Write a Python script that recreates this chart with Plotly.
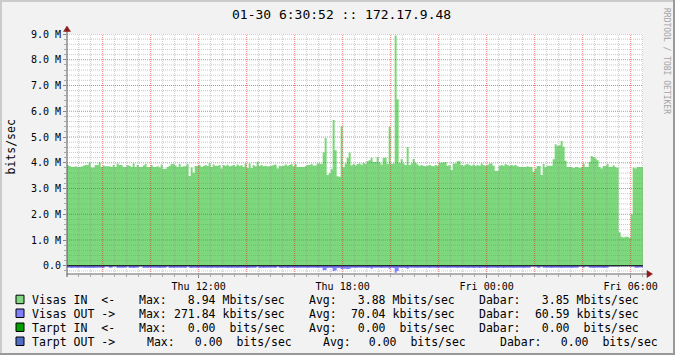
import plotly.graph_objects as go
import pandas as pd

# ---------------- data ----------------
title_text = "01-30 6:30:52 :: 172.17.9.48"
range_start = "2014-01-29 06:30:52"
range_end = "2014-01-30 06:30:52"
sample_start = "2014-01-29 06:30:00"

# Visas IN (Mbits/sec), 5-minute samples
visas_in = [
    3.91, 3.87, 3.84, 3.84, 3.86, 3.84, 3.84, 3.85, 3.88, 3.91, 3.91, 4.01,
    3.82, 3.82, 3.91, 3.91, 4.01, 3.84, 3.89, 3.86, 3.86, 3.86, 3.84, 3.91,
    3.84, 3.97, 3.91, 3.91, 3.84, 3.84, 3.91, 3.88, 3.84, 3.97, 3.84, 3.91,
    3.84, 3.84, 3.89, 3.95, 3.84, 3.84, 3.91, 3.84, 3.84, 3.86, 3.82, 3.93,
    3.76, 3.76, 3.84, 3.87, 3.95, 3.95, 3.89, 3.84, 3.95, 3.84, 3.86, 3.86,
    3.95, 3.49, 3.82, 3.61, 3.87, 3.88, 3.91, 3.84, 3.87, 3.91, 3.87, 3.98,
    3.84, 3.93, 3.88, 3.88, 3.91, 3.78, 3.91, 3.88, 3.92, 3.86, 3.88, 3.91,
    3.86, 3.93, 3.88, 3.90, 3.84, 3.97, 3.80, 3.97, 3.80, 3.91, 3.86, 4.04,
    3.88, 3.91, 3.86, 3.88, 3.86, 3.86, 3.88, 3.91, 3.93, 3.78, 3.88, 3.86,
    3.88, 3.93, 3.88, 3.91, 3.95, 3.86, 3.95, 3.84, 3.84, 3.84, 3.84, 3.86,
    3.91, 3.91, 3.95, 3.89, 3.89, 3.97, 3.97, 3.95, 4.40, 4.96, 3.52, 3.59,
    3.75, 5.66, 4.49, 3.48, 3.46, 5.42, 3.83, 3.97, 4.19, 4.40, 3.90, 3.95,
    3.90, 3.95, 3.97, 3.92, 3.99, 3.95, 4.06, 4.10, 4.19, 4.03, 4.03, 4.22,
    4.02, 3.93, 4.18, 4.20, 3.95, 5.40, 3.95, 3.97, 8.94, 6.47, 3.99, 4.14,
    3.97, 3.91, 4.61, 3.91, 3.97, 4.15, 4.00, 3.93, 3.88, 3.91, 3.88, 3.86,
    3.88, 3.91, 3.88, 3.86, 3.91, 3.88, 4.00, 4.00, 4.02, 4.02, 3.88, 3.91,
    3.72, 3.97, 3.97, 4.06, 4.06, 3.91, 3.88, 3.93, 3.95, 3.91, 3.88, 3.93,
    3.88, 3.91, 3.88, 3.97, 3.91, 3.88, 3.91, 3.97, 3.97, 3.88, 3.69, 3.69,
    3.88, 3.91, 3.88, 3.95, 3.91, 3.88, 3.91, 3.88, 3.91, 3.86, 3.84, 3.84,
    3.84, 3.84, 3.86, 3.84, 3.84, 3.65, 3.78, 3.87, 3.87, 3.52, 3.95, 3.83,
    3.88, 3.88, 3.88, 4.14, 4.72, 4.65, 4.68, 4.84, 4.62, 4.08, 3.84, 3.84,
    3.84, 3.80, 3.84, 3.84, 3.80, 3.84, 3.97, 3.84, 3.84, 4.04, 4.26, 4.22,
    4.17, 4.10, 3.84, 3.78, 3.87, 3.87, 3.95, 3.84, 3.84, 3.90, 3.84, 3.80,
    1.30, 1.13, 1.10, 1.13, 1.13, 1.09, 2.00, 3.82, 3.78, 3.84, 3.84, 3.84,
]

# Visas OUT (Mbits/sec), drawn below the zero line
visas_out = [
    .082, .080, .084, .082, .081, .083, .080, .082, .082, .084, .081, .083,
    .082, .083, .080, .082, .081, .082, .084, .030, .032, .082, .081, .030,
    .030, .083, .081, .082, .080, .082, .030, .083, .081, .083, .082, .080,
    .030, .031, .083, .081, .083, .082, .080, .082, .081, .082, .084, .081,
    .082, .080, .030, .083, .081, .083, .082, .080, .082, .081, .082, .083,
    .030, .081, .083, .082, .080, .083, .081, .082, .082, .080, .083, .081,
    .083, .082, .080, .083, .081, .082, .082, .080, .083, .081, .083, .082,
    .080, .083, .081, .082, .082, .080, .083, .081, .082, .082, .080, .030,
    .083, .081, .083, .082, .080, .082, .081, .082, .083, .030, .081, .083,
    .082, .080, .083, .081, .082, .082, .080, .083, .081, .082, .082, .080,
    .083, .081, .082, .082, .080, .083, .081, .082, .170, .165, .084, .082,
    .085, .200, .185, .084, .086, .125, .120, .118, .122, .120, .082, .081,
    .083, .082, .080, .082, .081, .082, .083, .082, .120, .082, .080, .082,
    .081, .083, .082, .080, .082, .120, .081, .083, .272, .200, .082, .083,
    .081, .083, .120, .082, .080, .082, .081, .083, .082, .080, .082, .081,
    .082, .083, .081, .082, .080, .083, .081, .082, .082, .080, .083, .081,
    .082, .082, .080, .083, .081, .082, .082, .080, .083, .081, .082, .083,
    .081, .082, .083, .080, .082, .081, .083, .082, .080, .082, .081, .083,
    .082, .080, .083, .081, .082, .082, .080, .083, .081, .082, .082, .080,
    .083, .081, .082, .082, .030, .030, .030, .082, .080, .030, .081, .082,
    .082, .080, .083, .081, .082, .082, .080, .083, .081, .082, .082, .080,
    .083, .081, .082, .082, .030, .030, .082, .030, .030, .082, .080, .083,
    .081, .082, .082, .080, .083, .081, .082, .030, .028, .030, .029, .030,
    .020, .018, .020, .019, .020, .018, .025, .030, .082, .081, .072, .072,
]

y_tick_values = [0, 1, 2, 3, 4, 5, 6, 7, 8, 9]
y_tick_labels = ["0.0", "1.0 M", "2.0 M", "3.0 M", "4.0 M", "5.0 M",
                 "6.0 M", "7.0 M", "8.0 M", "9.0 M"]
x_tick_times = ["2014-01-29 12:00", "2014-01-29 18:00",
                "2014-01-30 00:00", "2014-01-30 06:00"]
x_tick_labels = ["Thu 12:00", "Thu 18:00", "Fri 00:00", "Fri 06:00"]

legend_names = ["Visas IN  <-", "Visas OUT ->", "Tarpt IN  <-", "Tarpt OUT ->"]
legend_max = ["  8.94 Mbits/sec", "271.84 kbits/sec", "  0.00  bits/sec", "  0.00  bits/sec"]
legend_avg = ["  3.88 Mbits/sec", " 70.04 kbits/sec", "  0.00  bits/sec", "  0.00  bits/sec"]
legend_cur = ["  3.85 Mbits/sec", " 60.59 kbits/sec", "  0.00  bits/sec", "  0.00  bits/sec"]
legend_colors = ["#7FDA7F", "#8080FF", "#00A000", "#4F6FC6"]

# ---------------- styling / geometry ----------------
W, H = 675, 355
L, R, T, B = 67, 643, 34, 274
FONT = "DejaVu Sans Mono"
GREEN = "#7DD87D"
BLUE = "#7F7FFF"


def fx(px):
    return (px - L) / (R - L)


def fy(py):
    return (B - py) / (B - T)


times = list(pd.date_range(sample_start, periods=len(visas_in), freq="5min"))
times_ext = times + [pd.Timestamp(range_end)]
in_ext = visas_in + [visas_in[-1]]
out_ext = [-v for v in visas_out] + [-visas_out[-1]]

fig = go.Figure()
fig.add_trace(go.Scatter(x=times_ext, y=in_ext, mode="lines",
                         line=dict(width=0, shape="hv", color=GREEN),
                         fill="tozeroy", fillcolor=GREEN,
                         showlegend=False, hoverinfo="skip"))
fig.add_trace(go.Scatter(x=times_ext, y=out_ext, mode="lines",
                         line=dict(width=0, shape="hv", color=BLUE),
                         fill="tozeroy", fillcolor=BLUE,
                         showlegend=False, hoverinfo="skip"))

shapes = []
MGRID = "rgba(222,48,43,0.62)"
GRID = "rgba(140,140,140,0.48)"
DASH = "1px,1px"

# horizontal grid
for k in range(-1, 46):
    v = round(k * 0.2, 1)
    if v > 9.0:
        continue
    major = (k % 5 == 0)
    shapes.append(dict(type="line", xref="paper", yref="y", x0=0, x1=1, y0=v, y1=v,
                       line=dict(color=MGRID if major else GRID, width=1, dash=DASH),
                       layer="above"))
# vertical grid
for t in pd.date_range("2014-01-29 07:00", "2014-01-30 06:30", freq="30min"):
    major = (t.minute == 0 and t.hour % 2 == 0)
    shapes.append(dict(type="line", xref="x", yref="paper", x0=t, x1=t, y0=0, y1=1,
                       line=dict(color=MGRID if major else GRID, width=1, dash=DASH),
                       layer="above"))

# zero rule
shapes.append(dict(type="line", xref="paper", yref="y", x0=0, x1=1, y0=0, y1=0,
                   line=dict(color="#000000", width=1.1), layer="above"))
# axis lines
shapes.append(dict(type="line", xref="paper", yref="paper", x0=0, x1=fx(648),
                   y0=0, y1=0, line=dict(color="#666666", width=1), layer="above"))
shapes.append(dict(type="line", xref="paper", yref="paper", x0=0, x1=0,
                   y0=fy(277), y1=fy(29), line=dict(color="#555555", width=1), layer="above"))
# arrows
ARROW = "#8E1A1A"
shapes.append(dict(type="path", xref="paper", yref="paper",
                   path=f"M {fx(L-3.5)} {fy(31.5)} L {fx(L)} {fy(26)} L {fx(L+3.5)} {fy(31.5)} Z",
                   fillcolor=ARROW, line=dict(color=ARROW, width=0.5), layer="above"))
shapes.append(dict(type="path", xref="paper", yref="paper",
                   path=f"M {fx(647)} {fy(B-3.5)} L {fx(652.5)} {fy(B)} L {fx(647)} {fy(B+3.5)} Z",
                   fillcolor=ARROW, line=dict(color=ARROW, width=0.5), layer="above"))

# image border
shapes.append(dict(type="line", xref="paper", yref="paper", x0=fx(0), x1=fx(W), y0=fy(1), y1=fy(1),
                   line=dict(color="#CBCBCB", width=2)))
shapes.append(dict(type="line", xref="paper", yref="paper", x0=fx(1), x1=fx(1), y0=fy(0), y1=fy(H),
                   line=dict(color="#CBCBCB", width=2)))
shapes.append(dict(type="line", xref="paper", yref="paper", x0=fx(0), x1=fx(W), y0=fy(H - 1), y1=fy(H - 1),
                   line=dict(color="#999999", width=2)))
shapes.append(dict(type="line", xref="paper", yref="paper", x0=fx(W - 1), x1=fx(W - 1), y0=fy(0), y1=fy(H),
                   line=dict(color="#999999", width=2)))

annotations = []


def ann(text, px, py, size, xanchor="left", color="#000000", angle=0):
    annotations.append(dict(text=text, x=fx(px), y=fy(py), xref="paper", yref="paper",
                            xanchor=xanchor, yanchor="middle", showarrow=False,
                            textangle=angle, borderpad=0,
                            font=dict(family=FONT, size=size, color=color)))


ann(title_text, 341, 14, 13, xanchor="center")
ann("bits/sec", 10.5, 147, 11.5, xanchor="center", angle=-90)
ann("RRDTOOL / TOBI OETIKER", 666.5, 60.5, 8, xanchor="center", color="#A3A3A3", angle=90)

row_y = [299.7, 313.5, 327.5, 341.5]
LEG = 11.5
for r in range(4):
    y = row_y[r]
    shapes.append(dict(type="rect", xref="paper", yref="paper",
                       x0=fx(16), x1=fx(24), y0=fy(y - 4.5), y1=fy(y + 4),
                       fillcolor=legend_colors[r], line=dict(color="#000000", width=1)))
    ann(legend_names[r], 31, y, LEG)
    if r < 3:
        pos = [137.7, 172.7, 308.3, 342.8, 478.3, 526.6]
    else:
        pos = [145.7, 179.5, 321.7, 353.5, 499.0, 545.5]
    ann("Max:", pos[0], y, LEG)
    ann(legend_max[r], pos[1], y, LEG)
    ann("Avg:", pos[2], y, LEG)
    ann(legend_avg[r], pos[3], y, LEG)
    ann("Dabar:", pos[4], y, LEG)
    ann(legend_cur[r], pos[5], y, LEG)

fig.update_layout(
    width=W, height=H,
    margin=dict(l=L, r=W - R, t=T, b=H - B, pad=0),
    paper_bgcolor="#F2F2F2", plot_bgcolor="#FFFFFF",
    showlegend=False,
    shapes=shapes, annotations=annotations,
    xaxis=dict(type="date", range=[range_start, range_end],
               showgrid=False, zeroline=False, showline=False,
               tickvals=x_tick_times, ticktext=x_tick_labels,
               ticks="outside", ticklen=3, tickcolor="#888888",
               minor=dict(ticks="outside", ticklen=2, tickcolor="#AAAAAA",
                          dtick=30 * 60 * 1000, tick0="2014-01-29 00:00"),
               tickfont=dict(family=FONT, size=10, color="#000000")),
    yaxis=dict(range=[-0.32, 9.0], showgrid=False, zeroline=False, showline=False,
               tickvals=y_tick_values, ticktext=y_tick_labels,
               ticks="outside", ticklen=3, tickcolor="#888888",
               minor=dict(ticks="outside", ticklen=2, tickcolor="#AAAAAA", dtick=0.2, tick0=0),
               tickfont=dict(family=FONT, size=10, color="#000000")),
)

fig.write_html("out.html")
